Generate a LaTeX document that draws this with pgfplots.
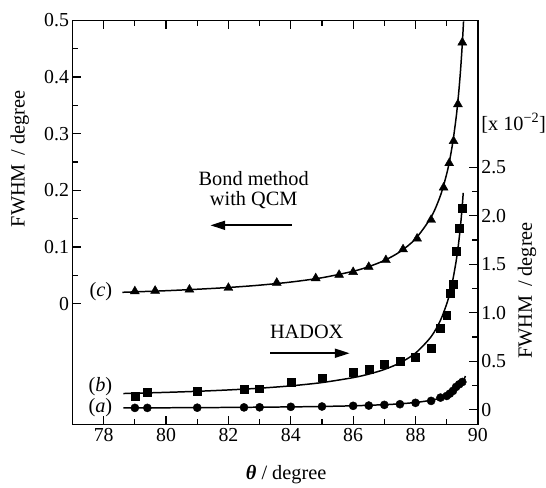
\documentclass[border=0pt]{standalone}
\usepackage{fontspec}
\setmainfont{Liberation Serif}
\usepackage{pgfplots}
\pgfplotsset{compat=1.18}
\usetikzlibrary{arrows.meta}

\newcommand{\fs}{\fontsize{20.5}{21}\selectfont}
\newcommand{\ts}{\fontsize{20}{22}\selectfont}

\pgfplotsset{
  common/.style={
    width=407.8bp, height=406.5bp, scale only axis,
    xmin=77, xmax=90,
    tick align=inside,
    major tick length=8.5bp, minor tick length=6bp,
    axis line style={line width=1.5bp},
    tick style={line width=1.2bp, black},
    tick label style={font=\ts},
    label style={font=\fs},
    /pgf/number format/assume math mode=true,
    clip=false,
  },
  curve/.style={smooth, line width=1.5bp, black, no marks},
}

\begin{document}
\begin{tikzpicture}
% left axis: bond method with QCM (c)
\begin{axis}[common,
  ymin=-0.213, ymax=0.5,
  xtick={78,80,...,90}, minor xtick={79,81,...,89},
  xtick pos=both, xticklabel pos=lower,
  ytick={0,0.1,0.2,0.3,0.4,0.5},
  yticklabels={0,0.1,0.2,0.3,0.4,0.5},
  minor ytick={0.05,0.15,0.25,0.35,0.45},
  ytick pos=left,
  xlabel={\textbf{\textit{θ}} / degree},
  xlabel style={at={(axis description cs:0.527,-0.125)}, anchor=center},
  ylabel={FWHM\, / degree},
  ylabel style={at={(axis description cs:-0.13,0.657)}, anchor=center},
]
\addplot[curve] coordinates {
  (78.6,0.0202) (79,0.0210) (80,0.0230) (81,0.0256) (82,0.0287) (83,0.0328)
  (84,0.0383) (85,0.0459) (86,0.0573) (86.5,0.0655) (87,0.0764) (87.5,0.0917)
  (88,0.1146) (88.5,0.1528) (88.8,0.1910) (89,0.2292) (89.1,0.2547) (89.2,0.2865)
  (89.3,0.3274) (89.35,0.3526) (89.4,0.3820) (89.45,0.4167) (89.5,0.4584)
  (89.53,0.4876) (89.54,0.4982)
};
\addplot[only marks, mark=triangle*, mark size=5.2bp] coordinates {
  (79.0,0.022) (79.65,0.023) (80.75,0.025) (82.0,0.028) (83.55,0.037)
  (84.8,0.045) (85.55,0.051) (86.0,0.056) (86.5,0.065) (87.05,0.077)
  (87.6,0.096) (88.05,0.115) (88.5,0.148) (88.9,0.205) (89.08,0.248)
  (89.22,0.287) (89.36,0.352) (89.5,0.461)
};
\node[anchor=east, inner sep=0pt, font=\fs] at (axis cs:78.28,0.022) {(\textit{c})};
\node[align=center, font=\fs] at (axis cs:82.81,0.2007) {Bond method\\with QCM};
\draw[line width=2bp, -{Stealth[length=15bp,width=9bp,inset=0pt]}]
  (axis cs:84.03,0.1384) -- (axis cs:81.42,0.1384);
\node[font=\fs] at (axis cs:84.51,-0.0494) {HADOX};
\draw[line width=2bp, -{Stealth[length=15bp,width=9bp,inset=0pt]}]
  (axis cs:83.34,-0.0873) -- (axis cs:85.89,-0.0873);
\node[anchor=west, inner sep=0pt, font=\fs] at (axis description cs:1.008,0.7454)
  {[x 10\textsuperscript{−2}]};
\path (rel axis cs:-0.1788,-0.15) rectangle (rel axis cs:1.1601,1.0504);
\end{axis}

% right axis: HADOX (a), (b)
\begin{axis}[common,
  ymin=-0.151, ymax=4.014,
  axis x line=none, axis y line*=right,
  y axis line style={-},
  ytick={0,0.5,1,1.5,2,2.5},
  yticklabels={0,0.5,1.0,1.5,2.0,2.5},
  minor ytick={0.25,0.75,1.25,1.75,2.25},
  ylabel={FWHM\, / degree},
  ylabel style={at={(axis description cs:1.121,0.332)}, anchor=center},
]
\addplot[curve] coordinates {
  (78.63,0.168) (79,0.171) (80,0.180) (81,0.191) (82,0.205) (83,0.223)
  (84,0.247) (85,0.281) (86,0.332) (86.5,0.368) (87,0.416) (87.5,0.484)
  (88,0.585) (88.5,0.754) (88.8,0.923) (89,1.092) (89.1,1.205) (89.2,1.346)
  (89.3,1.527) (89.35,1.638) (89.4,1.768) (89.45,1.922) (89.5,2.106) (89.53,2.236)
};
\addplot[only marks, mark=square*, mark size=4bp] coordinates {
  (79,0.143) (79.4,0.184) (81,0.195) (82.5,0.211) (83,0.218) (84,0.28)
  (85,0.331) (86,0.389) (86.5,0.423) (87,0.467) (87.5,0.502) (88,0.543)
  (88.5,0.638) (88.8,0.843) (89.0,0.98) (89.1,1.202) (89.2,1.297)
  (89.3,1.635) (89.4,1.875) (89.5,2.08)
};
\addplot[curve] coordinates {
  (78.63,0.0196) (80,0.0212) (82,0.0246) (84,0.0303) (85,0.0348) (86,0.0416)
  (87,0.0530) (87.5,0.0621) (88,0.0757) (88.5,0.0984) (88.8,0.1211) (89,0.1439)
  (89.1,0.159) (89.2,0.178) (89.3,0.2023) (89.4,0.2348) (89.45,0.2555)
  (89.5,0.2802) (89.55,0.3105) (89.6,0.3484)
};
\addplot[only marks, mark=*, mark size=4.1bp] coordinates {
  (79,0.02) (79.4,0.02) (81,0.022) (82.5,0.025) (83,0.026) (84,0.031)
  (85,0.034) (86,0.041) (86.5,0.044) (87,0.051) (87.5,0.058) (88,0.072)
  (88.5,0.092) (88.8,0.126) (89.0,0.143) (89.1,0.167) (89.2,0.195)
  (89.3,0.236) (89.4,0.263) (89.5,0.287)
};
\node[anchor=east, inner sep=0pt, font=\fs] at (axis cs:78.28,0.239) {(\textit{b})};
\node[anchor=east, inner sep=0pt, font=\fs] at (axis cs:78.28,0.024) {(\textit{a})};
\end{axis}
\end{tikzpicture}
\end{document}
